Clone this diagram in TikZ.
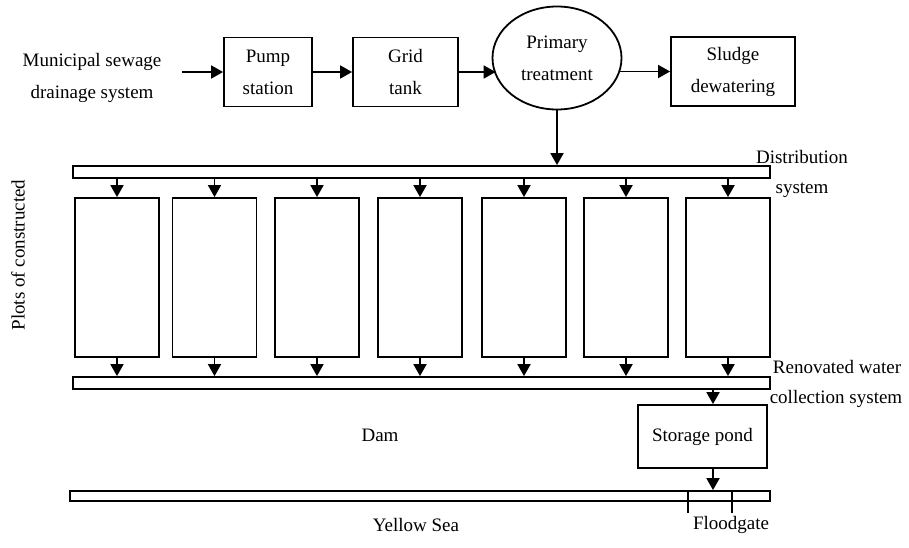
\documentclass[tikz,border=0pt]{standalone}
\usepackage{fontspec}
\setmainfont{Liberation Serif}
\usetikzlibrary{arrows.meta,shapes.geometric}

\tikzstyle{unit}=[draw,line width=0.9pt,minimum width=44pt,minimum height=34.5pt,inner sep=0pt,align=center]
\tikzstyle{plot}=[draw,line width=0.9pt,minimum width=42pt,minimum height=79.5pt,inner sep=0pt]
\tikzstyle{bar}=[draw,line width=0.9pt,minimum width=348.5pt,inner sep=0pt]
\tikzstyle{lbl}=[inner sep=0pt,align=center]
\tikzstyle{edge} = [draw,line width=0.9pt,-{Triangle[length=6pt,width=6.5pt]}]

\begin{document}
\begin{tikzpicture}[x=0.5pt,y=-0.5pt,font=\fontsize{9.5}{16}\selectfont]
     \useasboundingbox (0,0) rectangle (909,547);

     % treatment line
     \node[lbl] (src) at (92,78) {Municipal sewage\\drainage system};
     \coordinate (in) at (182,72);
     \node[unit] (pump) at (268,72) {Pump\\station};
     \node[unit,minimum width=52.5pt] (grid) at (405.5,72) {Grid\\tank};
     \node[ellipse,draw,line width=0.9pt,minimum width=64.5pt,minimum height=51.5pt,
       inner sep=0pt,align=center] (prim) at (557,58) {Primary\\treatment};
     \node[unit,minimum width=62pt] (sludge) at (733,71.5) {Sludge\\dewatering};

     \foreach \source/ \dest in {in/pump, pump/grid}
     \path[edge] (\source) -- (\dest);

     \path[edge] (grid.east) -- ([xshift=2pt]grid.east -| prim.west);
     \path[edge] ([xshift=-1pt]sludge.west -| prim.east) -- (sludge.west);

     % bars
     \node[bar,minimum height=6pt] (dist) at (421.5,172) {};
     \node[bar,minimum height=6pt] (reno) at (421.5,383) {};
     \node[bar,minimum width=350pt,minimum height=5pt] (sea) at (420,496) {};

     \path[edge] (prim.south) -- (prim.south |- dist.north);

     % plots of wetland
     \foreach \x/\name in {117/p1, 214.5/p2, 317/p3, 420/p4, 524/p5, 626/p6, 728/p7}
     \node[plot] (\name) at (\x,277.5) {};

     \foreach \name in {p1,p2,p3,p4,p5,p6,p7}
     {
       \path[edge] (\name.north |- dist.south) -- (\name.north);
       \path[edge] (\name.south) -- (\name.south |- reno.north);
     }

     \node[unit,minimum width=64.5pt,minimum height=31.5pt] (pond) at (702.5,436.5) {Storage pond};
     \path[edge] ([xshift=5.25pt]pond.north |- reno.south) -- ([xshift=5.25pt]pond.north);
     \path[edge] ([xshift=5.25pt]pond.south) -- ([xshift=5.25pt]pond.south |- sea.north);

     % floodgate
     \draw[line width=0.9pt] (688,491) -- (688,513) (732,491) -- (732,513);

     \node[lbl] (distl) at (802,157) {Distribution};
     \node[lbl] (distl2) at (802,190) {system};
     \node[lbl] (renol) at (837,367) {Renovated water};
     \node[lbl] (renol2) at (836,399) {collection system};
     \node[lbl] (dam) at (380,435) {Dam};
     \node[lbl] (yellow) at (416,525) {Yellow Sea};
     \node[lbl] (gate) at (731,525) {Floodgate};
     \node[lbl,rotate=90] (plots) at (18,255) {Plots of constructed};
   \end{tikzpicture}
\end{document}
